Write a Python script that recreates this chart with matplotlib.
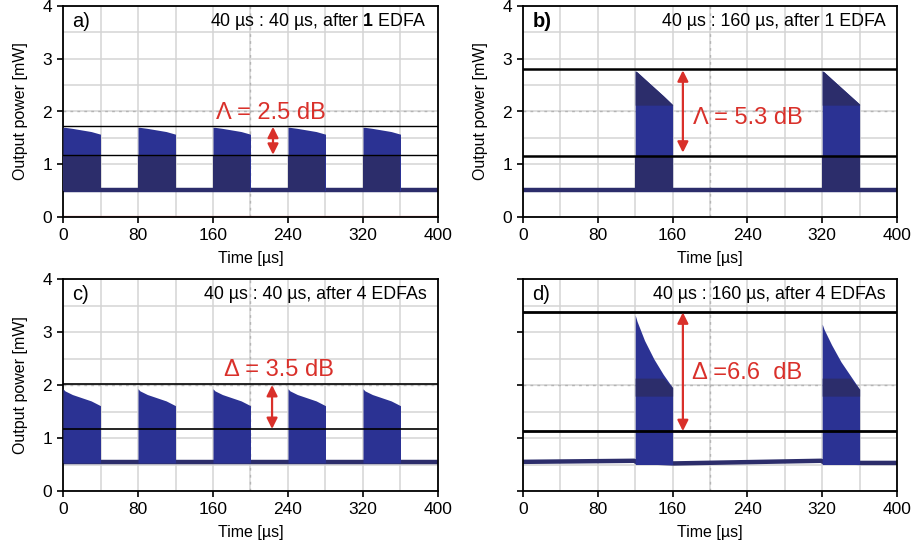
import numpy as np
import matplotlib
matplotlib.use("Agg")
import matplotlib.pyplot as plt

plt.rcParams['font.family'] = ['Liberation Sans', 'DejaVu Sans']
plt.rcParams['mathtext.fontset'] = 'custom'
plt.rcParams['mathtext.rm'] = 'Liberation Sans'
plt.rcParams['mathtext.bf'] = 'Liberation Sans:bold'

# ---------------- data ----------------
time_ticks = [0, 80, 160, 240, 320, 400]
power_ticks = [0, 1, 2, 3, 4]
panel_letters = ['a)', 'b)', 'c)', 'd)']
panel_titles = [r'40 µs : 40 µs, after $\mathbf{1}$ EDFA',
                '40 µs : 160 µs, after 1 EDFA',
                '40 µs : 40 µs, after 4 EDFAs',
                '40 µs : 160 µs, after 4 EDFAs']
delta_labels = ['Λ = 2.5 dB', 'Λ = 5.3 dB', 'Δ = 3.5 dB', 'Δ =6.6  dB']

# pulse start times [µs]
pulse_starts_a = [0, 80, 160, 240, 320]
pulse_starts_b = [120, 320]
pulse_starts_c = [0, 80, 160, 240, 320]
pulse_starts_d = [120, 320]
# sample times inside each 40 µs pulse [µs]
pulse_offsets = [0, 2, 10, 20, 30, 40]
# top envelopes of pulses [mW]
envelope_a = [[1.70, 1.70, 1.68, 1.65, 1.62, 1.57]] * 5
envelope_b = [[2.77, 2.75, 2.62, 2.46, 2.30, 2.13],
              [2.77, 2.75, 2.62, 2.46, 2.30, 2.14]]
envelope_c = [[1.93, 1.89, 1.82, 1.76, 1.70, 1.61]] * 5
envelope_d = [[3.32, 3.20, 2.84, 2.49, 2.20, 1.95],
              [3.15, 3.05, 2.76, 2.44, 2.18, 1.92]]
# baseline (off-level) traces [mW]
baseline_t = [0, 119, 121, 161, 319, 321, 361, 400]
baseline_a = [0.52, 0.52, 0.52, 0.52, 0.52, 0.52, 0.52, 0.52]
baseline_b = [0.52, 0.52, 0.52, 0.52, 0.52, 0.52, 0.52, 0.52]
baseline_c = [0.55, 0.55, 0.55, 0.55, 0.55, 0.55, 0.55, 0.55]
baseline_d = [0.55, 0.57, 0.55, 0.52, 0.57, 0.55, 0.53, 0.53]
# darker (denser) bands inside the pulses [mW]
dark_bands_a = [(0.50, 1.18)]
dark_bands_b = [(0.50, 1.15), (2.12, 3.0)]
dark_bands_c = []
dark_bands_d = [(1.79, 2.13)]
# horizontal reference levels [mW]
ref_upper = [1.72, 2.80, 2.01, 3.38]
ref_lower = [1.18, 1.15, 1.17, 1.13]
arrow_x = [224, 171, 223, 171]
arrow_top = [1.71, 2.78, 2.00, 3.37]
arrow_bottom = [1.18, 1.22, 1.17, 1.13]

panels = [
    (pulse_starts_a, envelope_a, baseline_a, dark_bands_a),
    (pulse_starts_b, envelope_b, baseline_b, dark_bands_b),
    (pulse_starts_c, envelope_c, baseline_c, dark_bands_c),
    (pulse_starts_d, envelope_d, baseline_d, dark_bands_d),
]

# ---------------- styling ----------------
W, H = 912, 549
fig = plt.figure(figsize=(W / 100, H / 100), dpi=100)
boxes = [(63, 6, 438, 217), (523, 6, 897, 217),
         (63, 279, 438, 491), (523, 279, 897, 491)]
ref_lw = [1.0, 1.8, 1.2, 2.0]
text_pos = [(222, 1.97, 'center'), (182, 1.88, 'left'),
            (230, 2.28, 'center'), (181, 2.23, 'left')]
BRIGHT = '#2b3293'
DARK = '#2c2d6b'
RED = '#d9302a'

for i, (starts, envs, base, bands) in enumerate(panels):
    l, t, r, b = boxes[i]
    ax = fig.add_axes([l / W, 1 - b / H, (r - l) / W, (b - t) / H])
    ax.set_xlim(0, 400)
    ax.set_ylim(0, 4)
    ax.set_xticks(time_ticks)
    ax.set_yticks(power_ticks)
    if i == 3:
        ax.set_yticklabels([])
    ax.set_xticks(np.arange(0, 401, 40), minor=True)
    ax.set_yticks(np.arange(0, 4.01, 0.5), minor=True)
    ax.grid(True, which='both', color='#d4d4d4', lw=1.1, zorder=0)
    ax.tick_params(which='minor', length=0)
    ax.tick_params(which='major', direction='out', length=4, width=1.2,
                   labelsize=12.5, pad=4)
    ax.set_axisbelow(True)
    for s in ax.spines.values():
        s.set_linewidth(1.3)
    # oscilloscope centre cross
    ax.axvline(200, color='#b4b4b4', lw=1.0, ls=(0, (2, 3)), zorder=1)
    ax.axhline(2, color='#b4b4b4', lw=1.0, ls=(0, (2, 3)), zorder=1)

    # baseline trace
    ax.plot(baseline_t, base, color=DARK, lw=3.2, zorder=2,
            solid_capstyle='butt')
    # pulses
    for st, env in zip(starts, envs):
        x = np.array(pulse_offsets) + st
        env = np.array(env)
        b0 = min(base) - 0.02
        ax.fill_between(x, b0, env, color=BRIGHT, lw=0, zorder=3)
        for lo, hi in bands:
            top = np.minimum(env, hi)
            ax.fill_between(x, lo, top, where=top > lo, color=DARK, lw=0,
                            zorder=3.5, interpolate=True)
    if i == 0:
        ax.axhline(0.012, color='#e8a0a0', lw=1.0, zorder=2)

    # reference levels
    ax.axhline(ref_upper[i], color='black', lw=ref_lw[i], zorder=4)
    ax.axhline(ref_lower[i], color='black', lw=ref_lw[i], zorder=4)
    # delta arrow
    ax.annotate('', xy=(arrow_x[i], arrow_bottom[i]),
                xytext=(arrow_x[i], arrow_top[i]),
                arrowprops=dict(arrowstyle='<|-|>', color=RED, lw=1.6,
                                mutation_scale=16, shrinkA=0, shrinkB=0),
                zorder=5)
    tx, ty, ha = text_pos[i]
    ax.text(tx, ty, delta_labels[i], color=RED, fontsize=17, ha=ha,
            va='center', zorder=6)
    # panel letter and title
    ax.text(10, 3.70, panel_letters[i], fontsize=14.5, ha='left',
            va='center', fontweight='bold' if i == 1 else 'normal', zorder=6)
    ax.text(388, 3.70, panel_titles[i], fontsize=12.8, ha='right',
            va='center', zorder=6)

    ax.set_xlabel('Time [µs]', fontsize=11.5, labelpad=6)
    if i != 3:
        ax.set_ylabel('Output power [mW]', fontsize=11.5, labelpad=10)

fig.savefig('out.png', dpi=100)
